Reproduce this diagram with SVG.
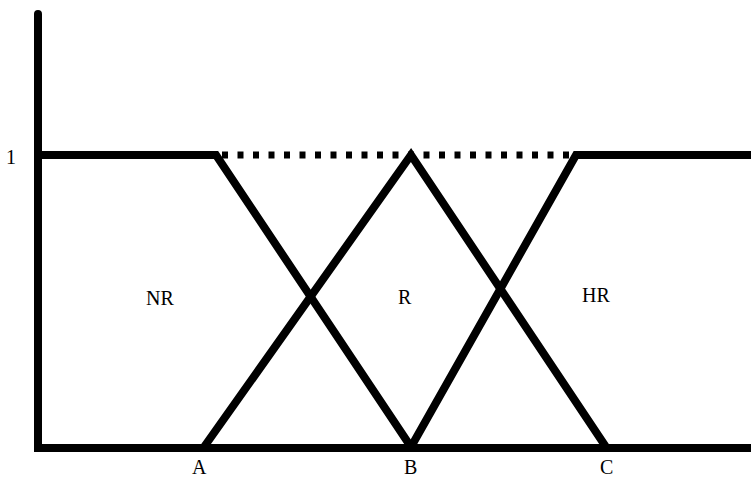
<svg xmlns="http://www.w3.org/2000/svg" width="751" height="477" viewBox="0 0 751 477">
<style>
.ln{stroke:#000;stroke-width:8;fill:none;stroke-linejoin:miter}
.dot{stroke:#000;stroke-width:7;fill:none;stroke-dasharray:6 9.5}
.t{font-family:"Liberation Serif","Times New Roman",serif;font-size:20px;fill:#000}
</style>
<rect width="751" height="477" fill="#fff"/>
<g id="axes">
<path class="ln" d="M38 14 V448 H751" stroke-linecap="round"/>
</g>
<g id="connectors">
<path class="ln" d="M38 155 H216 L411 447"/>
<path class="ln" d="M204 447 L411 155 L606 447"/>
<path class="ln" d="M411 447 L576 155 H751"/>
<path class="dot" d="M222 155 H572"/>
</g>
<g id="labels">
<text class="t" x="6" y="164">1</text>
<text class="t" x="146" y="305">NR</text>
<text class="t" x="398" y="304">R</text>
<text class="t" x="582" y="302">HR</text>
<text class="t" x="192" y="474">A</text>
<text class="t" x="404" y="474">B</text>
<text class="t" x="600" y="474">C</text>
</g>
</svg>
